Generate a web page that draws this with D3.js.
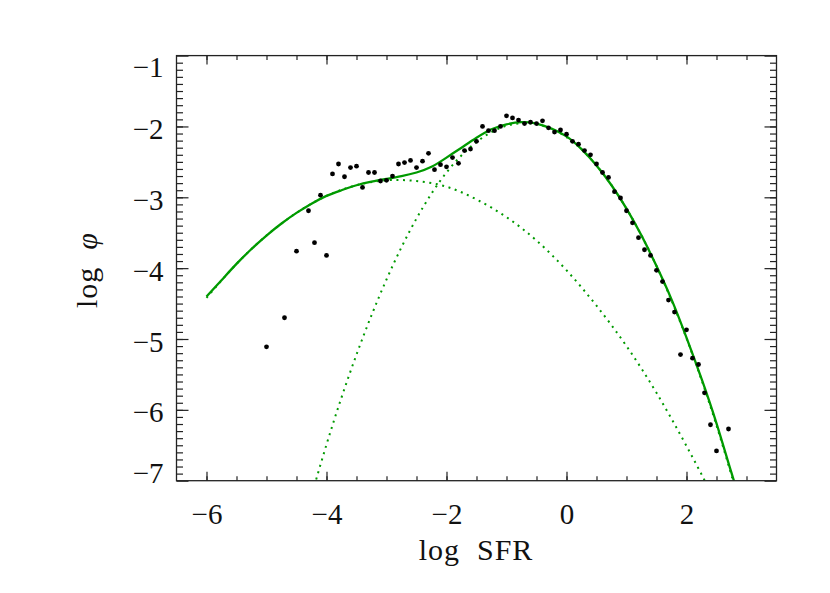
<!DOCTYPE html>
<html>
<head>
<meta charset="utf-8">
<script src="https://cdn.jsdelivr.net/npm/d3@7"></script>
<style>
  body { margin: 0; background: #fff; }
  svg text { font-family: "Liberation Serif", serif; fill: #111; }
</style>
</head>
<body>
<div id="chart"></div>
<script>
// ---- data ----
const sfrX = [-5.0, -4.7, -4.5, -4.3, -4.2, -4.1, -4.0, -3.9, -3.8, -3.7, -3.6, -3.5, -3.4, -3.3, -3.2, -3.1,
  -3.0, -2.9, -2.8, -2.7, -2.6, -2.5, -2.4, -2.3, -2.2, -2.1, -2.0, -1.9, -1.8, -1.7, -1.6, -1.5, -1.4, -1.3,
  -1.2, -1.1, -1.0, -0.9, -0.8, -0.7, -0.6, -0.5, -0.4, -0.3, -0.2, -0.1, 0.0, 0.1, 0.2, 0.3, 0.4, 0.5, 0.6,
  0.7, 0.8, 0.9, 1.0, 1.1, 1.2, 1.3, 1.4, 1.5, 1.6, 1.7, 1.8, 1.9, 2.0, 2.1, 2.2, 2.3, 2.4, 2.5, 2.7];
const phiY = [-5.11, -4.70, -3.76, -3.19, -3.64, -2.97, -3.82, -2.67, -2.53, -2.71, -2.58, -2.56, -2.86, -2.65, -2.65, -2.77,
  -2.76, -2.70, -2.53, -2.51, -2.48, -2.58, -2.49, -2.38, -2.61, -2.54, -2.57, -2.44, -2.52, -2.34, -2.32, -2.21, -2.00, -2.06,
  -2.06, -2.00, -1.85, -1.88, -1.91, -1.96, -1.94, -1.96, -1.92, -2.02, -2.08, -2.05, -2.11, -2.21, -2.25, -2.34, -2.40, -2.53, -2.65,
  -2.72, -2.92, -3.01, -3.19, -3.36, -3.57, -3.74, -3.82, -4.03, -4.19, -4.45, -4.62, -5.22, -4.87, -5.27, -5.36, -5.76, -6.21, -6.58, -6.27];

// total fit (solid green)
const fitX = [-6.0, -5.75, -5.5, -5.25, -5.0, -4.75, -4.5, -4.25, -4.0, -3.75, -3.5, -3.25, -3.0, -2.75, -2.5, -2.25,
  -2.0, -1.75, -1.5, -1.25, -1.0, -0.75, -0.5, -0.25, 0.0, 0.25, 0.5, 0.75, 1.0, 1.25, 1.5, 1.75, 2.0, 2.25, 2.5, 2.75, 3.0];
const fitY = [-4.40, -4.17, -3.94, -3.73, -3.54, -3.37, -3.22, -3.09, -2.98, -2.90, -2.83, -2.78, -2.74, -2.70, -2.65, -2.57,
  -2.44, -2.30, -2.16, -2.04, -1.97, -1.94, -1.96, -2.03, -2.14, -2.32, -2.55, -2.83, -3.16, -3.54, -3.97, -4.44, -4.98, -5.56, -6.19, -6.89, -7.56];

// broad component (dotted)
const broadX = [-6.0, -5.5, -5.0, -4.5, -4.0, -3.5, -3.0, -2.5, -2.0, -1.5, -1.0, -0.5, 0.0, 0.5, 1.0, 1.5, 2.0, 2.5, 3.0];
const broadY = [-4.42, -3.94, -3.54, -3.22, -2.98, -2.83, -2.76, -2.77, -2.85, -3.03, -3.28, -3.61, -4.03, -4.53, -5.10, -5.76, -6.51, -7.33, -8.23];

// narrow component (dotted)
const narrowX = [-4.5, -4.0, -3.5, -3.0, -2.5, -2.0, -1.5, -1.0, -0.5, 0.0, 0.5, 1.0, 1.5, 2.0, 2.5, 3.0];
const narrowY = [-7.97, -6.49, -5.22, -4.16, -3.30, -2.65, -2.22, -1.99, -1.97, -2.15, -2.55, -3.16, -3.97, -4.99, -6.22, -7.66];

const xMajor = [-6, -4, -2, 0, 2];
const xMinor = [-6, -5.5, -5, -4.5, -4, -3.5, -3, -2.5, -2, -1.5, -1, -0.5, 0, 0.5, 1, 1.5, 2, 2.5, 3];
const yMajor = [-7, -6, -5, -4, -3, -2, -1];
const yMinor = d3.range(-69, -10).map(v => v / 10);

// ---- layout ----
const width = 830, height = 593;
const pLeft = 176.5, pRight = 776.5, pTop = 55.6, pBottom = 480.7;
const green = "#009a00";

const x = d3.scaleLinear().domain([-6.5, 3.5]).range([pLeft, pRight]);
const y = d3.scaleLinear().domain([-7, -1]).range([pBottom, pTop]);

const svg = d3.select("#chart").append("svg")
  .attr("width", width).attr("height", height);

svg.append("clipPath").attr("id", "plotclip")
  .append("rect")
    .attr("x", pLeft).attr("y", pTop)
    .attr("width", pRight - pLeft).attr("height", pBottom - pTop);

const plot = svg.append("g").attr("clip-path", "url(#plotclip)");

const line = d3.line()
  .x(d => x(d[0]))
  .y(d => y(d[1]))
  .curve(d3.curveNatural);

// dotted components
plot.append("path")
  .attr("d", line(d3.zip(broadX, broadY)))
  .attr("fill", "none").attr("stroke", green)
  .attr("stroke-width", 2).attr("stroke-dasharray", "2 4.6");
plot.append("path")
  .attr("d", line(d3.zip(narrowX, narrowY)))
  .attr("fill", "none").attr("stroke", green)
  .attr("stroke-width", 2).attr("stroke-dasharray", "2 4.6");

// total fit
plot.append("path")
  .attr("d", line(d3.zip(fitX, fitY)))
  .attr("fill", "none").attr("stroke", green)
  .attr("stroke-width", 2.3);

// data points
plot.selectAll("circle")
  .data(d3.zip(sfrX, phiY))
  .enter().append("circle")
    .attr("cx", d => x(d[0]))
    .attr("cy", d => y(d[1]))
    .attr("r", 2.4)
    .attr("fill", "#000");

// ---- axes (ticks inward, all four sides) ----
function styleAxis(g) {
  g.select(".domain").remove();
  g.selectAll("line").attr("stroke", "#222").attr("stroke-width", 1.2);
}
const fmt = d => d3.format("d")(d).replace("-", "\u2212");

// bottom
svg.append("g").attr("transform", `translate(0,${pBottom})`)
  .call(d3.axisBottom(x).tickValues(xMinor).tickSize(-4.5).tickFormat(""))
  .call(styleAxis);
const xAx = svg.append("g").attr("transform", `translate(0,${pBottom})`)
  .call(d3.axisBottom(x).tickValues(xMajor).tickSize(-9).tickPadding(23).tickFormat(fmt))
  .call(styleAxis);
xAx.selectAll("text").attr("font-size", 29).attr("fill", "#111");

// top
svg.append("g").attr("transform", `translate(0,${pTop})`)
  .call(d3.axisTop(x).tickValues(xMinor).tickSize(-4.5).tickFormat(""))
  .call(styleAxis);
svg.append("g").attr("transform", `translate(0,${pTop})`)
  .call(d3.axisTop(x).tickValues(xMajor).tickSize(-9).tickFormat(""))
  .call(styleAxis);

// left
svg.append("g").attr("transform", `translate(${pLeft},0)`)
  .call(d3.axisLeft(y).tickValues(yMinor).tickSize(-6.5).tickFormat(""))
  .call(styleAxis);
const yAx = svg.append("g").attr("transform", `translate(${pLeft},0)`)
  .call(d3.axisLeft(y).tickValues(yMajor).tickSize(-12).tickPadding(13).tickFormat(fmt))
  .call(styleAxis);
yAx.selectAll("text")
  .attr("font-size", 29).attr("fill", "#111")
  .attr("dy", d => d === -1 ? 21 : d === -7 ? 1.5 : 12);

// right
svg.append("g").attr("transform", `translate(${pRight},0)`)
  .call(d3.axisRight(y).tickValues(yMinor).tickSize(-6.5).tickFormat(""))
  .call(styleAxis);
svg.append("g").attr("transform", `translate(${pRight},0)`)
  .call(d3.axisRight(y).tickValues(yMajor).tickSize(-12).tickFormat(""))
  .call(styleAxis);

// frame
svg.append("rect")
  .attr("x", pLeft).attr("y", pTop)
  .attr("width", pRight - pLeft).attr("height", pBottom - pTop)
  .attr("fill", "none").attr("stroke", "#222").attr("stroke-width", 1.3);

// axis titles
svg.append("text")
  .attr("x", 476).attr("y", 560)
  .attr("text-anchor", "middle").attr("font-size", 30)
  .attr("letter-spacing", 1)
  .attr("xml:space", "preserve")
  .text("log  SFR");

const yt = svg.append("text")
  .attr("transform", "translate(97,270) rotate(-90)")
  .attr("text-anchor", "middle").attr("font-size", 30)
  .attr("letter-spacing", 1)
  .attr("xml:space", "preserve");
yt.append("tspan").text("log  ");
yt.append("tspan").attr("font-style", "italic").text("\u03c6");
</script>
</body>
</html>
